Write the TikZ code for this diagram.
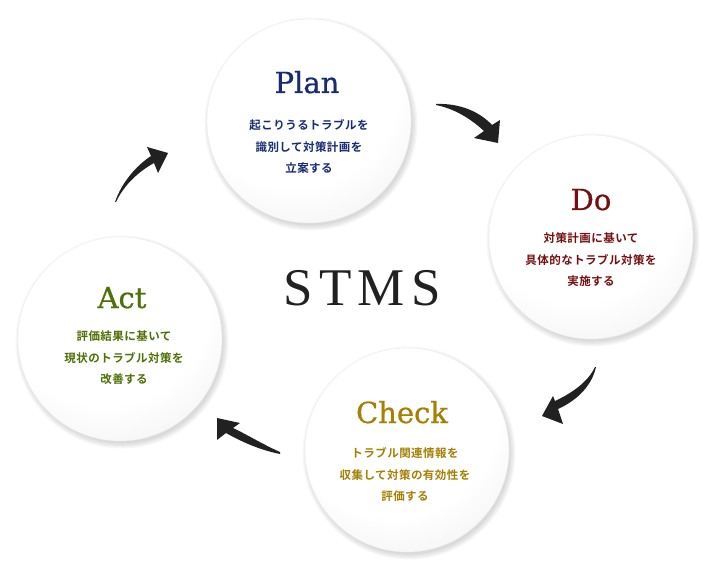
\documentclass[tikz,border=0pt]{standalone}
\usepackage{fontspec}
\setmainfont{DejaVu Serif}
\newfontfamily\jpfont{Noto Sans CJK JP Bold}[LetterSpace=4]
\newfontfamily\stmsfont{Liberation Serif}[LetterSpace=12]
\usepackage{xcolor}
\usepackage{tikz}
\usetikzlibrary{calc}
\definecolor{planc}{RGB}{24,44,114}
\definecolor{doc}{RGB}{118,16,16}
\definecolor{chkc}{RGB}{164,128,4}
\definecolor{actc}{RGB}{78,112,4}
\pgfdeclareradialshading{orb}{\pgfpoint{-6bp}{16bp}}{color(0bp)=(white); color(26bp)=(white); color(50bp)=(black!10); color(66bp)=(black!22)}

\begin{document}
\begin{tikzpicture}[x=1pt,y=-1pt,
  ball/.style={circle,minimum size=204pt,inner sep=0pt,shading=orb,draw=black!7,line width=0.4pt},
  head/.style={font=\fontsize{29}{29}\selectfont\addfontfeature{FakeBold=0.7},anchor=base},
  txt/.style={font=\jpfont\fontsize{11.5}{21.5}\selectfont,align=center},
  curlarrow/.style={fill=black!87}]
  \useasboundingbox (0,0) rectangle (720,572);
  % soft shadows under the four balls
  \foreach \x/\y in {309/121,591/237,407/450,120/339}
    \foreach \k in {1,...,5} \fill[black,opacity=0.03] (\x+2,\y+3) circle (100+\k*1.3);
  \node[ball] (plan) at (309,121) {};
  \node[ball] (do) at (591,237) {};
  \node[ball] (check) at (407,450) {};
  \node[ball] (act) at (120,339) {};
  % titles and texts
  \node[head,text=planc] (plant) at (307,93) {Plan};
  \node[txt,text=planc] (planx) at (309,147) {起こりうるトラブルを\\識別して対策計画を\\立案する};
  \node[head,text=doc] (dot) at (591,210) {Do};
  \node[txt,text=doc] (dox) at (591,260) {対策計画に基いて\\具体的なトラブル対策を\\実施する};
  \node[head,text=chkc] (checkt) at (402,423) {Check};
  \node[txt,text=chkc] (checkx) at (405,475) {トラブル関連情報を\\収集して対策の有効性を\\評価する};
  \node[head,text=actc] (actt) at (122,308) {Act};
  \node[txt,text=actc] (actx) at (124,358) {評価結果に基いて\\現状のトラブル対策を\\改善する};
  \node[font=\stmsfont\fontsize{53}{53}\selectfont,text=black!87,anchor=base] (stms) at (362,305) {STMS};
  % curved arrows
  \fill[curlarrow] (436,104) .. controls (460,103) and (480,112) .. (492,125) -- (500,120) -- (498,143) -- (474,138) -- (484,131) .. controls (472,120) and (456,109) .. (436,105) -- cycle;
  \fill[curlarrow] (595,367) .. controls (588,382) and (572,393) .. (555,401) -- (553,396) -- (542,416) -- (563,424) -- (558,409) .. controls (578,400) and (592,385) .. (596,367) -- cycle;
  \fill[curlarrow] (280,452) .. controls (262,444) and (246,434) .. (233,428) -- (240,423) -- (217,418) -- (217,440) -- (226,433) .. controls (242,442) and (260,450) .. (280,454) -- cycle;
  \fill[curlarrow] (115,202) .. controls (122,182) and (136,166) .. (151,156) -- (147,147) -- (168,153) -- (158,173) -- (154,163) .. controls (138,172) and (124,185) .. (116,202) -- cycle;
\end{tikzpicture}
\end{document}
